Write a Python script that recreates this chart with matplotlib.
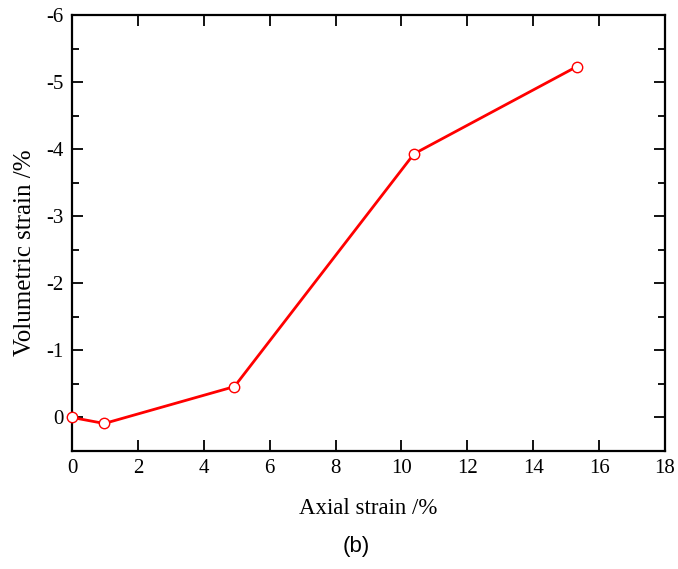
import matplotlib.pyplot as plt
import numpy as np

axial = [0.0, 0.98, 4.93, 10.38, 15.32]
volumetric = [0.0, 0.09, -0.46, -3.93, -5.23]

plt.rcParams['font.family'] = 'Liberation Serif'

fig = plt.figure(figsize=(6.78, 5.69), dpi=100)
ax = fig.add_axes([0.1062, 0.2074, 0.8746, 0.7662])

ax.plot(axial, volumetric, color='red', lw=2.0, marker='o', ms=7.5,
        mfc='white', mec='red', mew=1.0, clip_on=False, zorder=3)

ax.set_xlim(0, 18)
ax.set_ylim(0.5, -6)
ax.set_xticks(np.arange(0, 19, 2))
ax.set_yticks(np.arange(-6, 1, 1))
ax.set_yticks(np.arange(-5.5, 0.6, 1), minor=True)
ax.set_yticklabels([str(v) for v in range(-6, 1)])

ax.tick_params(which='both', direction='in', top=True, right=True, width=1.3,
               labelsize=15)
ax.tick_params(which='major', length=8, pad=6)
ax.tick_params(which='minor', length=5)
for s in ax.spines.values():
    s.set_linewidth(1.6)

ax.set_xlabel('Axial strain /%', fontsize=16.5, labelpad=14)
ax.set_ylabel('Volumetric strain /%', fontsize=18)
ax.yaxis.set_label_coords(-0.06, 0.454)
fig.text(0.525, 0.03, '(b)', fontsize=16, family='Liberation Sans', ha='center')

fig.savefig('out.png', dpi=100)
